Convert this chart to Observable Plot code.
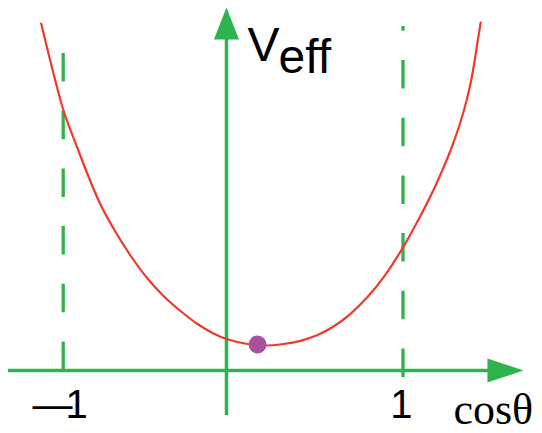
<!DOCTYPE html>
<html>
<head>
<meta charset="utf-8">
<script src="https://cdn.jsdelivr.net/npm/d3@7"></script>
<script src="https://cdn.jsdelivr.net/npm/@observablehq/plot@0.6"></script>
<style>
  html, body { margin: 0; padding: 0; background: #fff; }
  #chart svg { display: block; }
</style>
</head>
<body>
<div id="chart"></div>
<script>
// Curve V_eff(cosθ)
const cosTheta = [-1.1295, -1.0748, -1.0, -0.9176, -0.8393, -0.7805, -0.704, -0.6039, -0.5038, -0.4097, -0.3096, -0.2096, -0.1154, -0.0388, 0.0848, 0.173, 0.2966, 0.3967, 0.4968, 0.5909, 0.691, 0.7911, 0.8852, 0.9853, 1.0853, 1.1795, 1.2384, 1.2796, 1.322, 1.3585, 1.3926, 1.415, 1.4373, 1.4573];
const vEff     = [3.47, 3.09, 2.61, 2.23, 1.89, 1.66, 1.42, 1.15, 0.92, 0.745, 0.595, 0.465, 0.37, 0.315, 0.265, 0.25, 0.265, 0.296, 0.354, 0.44, 0.567, 0.734, 0.931, 1.189, 1.49, 1.805, 2.03, 2.20, 2.40, 2.60, 2.83, 3.03, 3.27, 3.48];

// Minimum point
const dotX = [0.144];
const dotY = [0.26];

// Bounds at cosθ = ±1 (dashed lines) and their vertical extents
const boundX  = [-1, 1];
const boundY1 = [0, -0.07];
const boundY2 = [3.18, 3.44];

// Axis extents
const xAxisFrom = -1.322, xAxisTo = 1.709;   // horizontal axis (y = 0)
const yAxisAt = -0.039, yAxisFrom = -0.45, yAxisTo = 3.63;

// Labels
const tickLabels = ["—1", "1"];
const tickX = [-1.1807, 0.99];
const tickAnchor = ["start", "middle"];
const xLabel = "cosθ";
const yLabelMain = "V";
const yLabelSub = "eff";

const green = "#2fb34f";
const red = "#ee3a2a";
const purple = "#a5519e";

const curve = cosTheta.map((c, i) => ({x: c, y: vEff[i]}));
const dots = dotX.map((d, i) => ({x: d, y: dotY[i]}));
const bounds = boundX.map((b, i) => ({x: b, y1: boundY1[i], y2: boundY2[i]}));
const ticks = tickLabels.map((t, i) => ({x: tickX[i], label: t, anchor: tickAnchor[i]}));

// Arrow heads built from axis ends (head length/half-width in data units)
const hxLen = 0.212, hxHalf = 0.12;     // horizontal arrow
const hyLen = 0.32, hyHalf = 0.074;     // vertical arrow
const headX = [
  {x: xAxisTo - hxLen, y: -hxHalf}, {x: xAxisTo, y: 0}, {x: xAxisTo - hxLen, y: hxHalf}
];
const headY = [
  {x: yAxisAt - hyHalf, y: yAxisTo - hyLen}, {x: yAxisAt, y: yAxisTo}, {x: yAxisAt + hyHalf, y: yAxisTo - hyLen}
];

const sans = "Liberation Sans, Arial, sans-serif";

const chart = Plot.plot({
  width: 542,
  height: 433,
  margin: 0,
  style: {background: "#fff", overflow: "visible"},
  x: {domain: [-1, 1], range: [62.7, 402.5], axis: null},
  y: {domain: [0, 3.5], range: [370, 20], axis: null},
  marks: [
    Plot.ruleX(bounds, {x: "x", y1: "y1", y2: "y2", stroke: green, strokeWidth: 3.3, strokeDasharray: "28.5,29.2"}),
    Plot.ruleY([0], {x1: xAxisFrom, x2: xAxisTo - hxLen + 0.02, stroke: green, strokeWidth: 3.5}),
    Plot.ruleX([yAxisAt], {y1: yAxisFrom, y2: yAxisTo - hyLen + 0.02, stroke: green, strokeWidth: 3.5}),
    Plot.line(headX, {x: "x", y: "y", fill: green, stroke: "none"}),
    Plot.line(headY, {x: "x", y: "y", fill: green, stroke: "none"}),
    Plot.line(curve, {x: "x", y: "y", stroke: red, strokeWidth: 2.2, curve: "catmull-rom"}),
    Plot.dot(dots, {x: "x", y: "y", r: 9, fill: purple, stroke: "none"}),
    Plot.text([yLabelMain], {x: yAxisAt, y: 3.10, dx: 21, text: d => d, textAnchor: "start", lineAnchor: "bottom", fontSize: 48, fontFamily: sans, fill: "#000"}),
    Plot.text([yLabelSub], {x: yAxisAt, y: 2.98, dx: 52, text: d => d, textAnchor: "start", lineAnchor: "bottom", fontSize: 48, fontFamily: sans, fill: "#000"}),
    Plot.text(ticks.filter(d => d.anchor === "start"), {x: "x", y: -0.47, text: "label", textAnchor: "start", lineAnchor: "bottom", fontSize: 40, fontFamily: sans, fill: "#000"}),
    Plot.text(ticks.filter(d => d.anchor === "middle"), {x: "x", y: -0.47, text: "label", textAnchor: "middle", lineAnchor: "bottom", fontSize: 40, fontFamily: sans, fill: "#000"}),
    Plot.text([xLabel], {x: 1.297, y: -0.535, text: d => d, textAnchor: "start", lineAnchor: "bottom", fontSize: 44, fontFamily: "Liberation Serif, Times New Roman, serif", fill: "#000"})
  ]
});
// tighten the dash and the digit in "—1" as in the reference
chart.querySelectorAll("text").forEach(t => {
  if (t.textContent === tickLabels[0]) t.style.letterSpacing = "-7px";
});
document.getElementById("chart").appendChild(chart);
</script>
</body>
</html>
